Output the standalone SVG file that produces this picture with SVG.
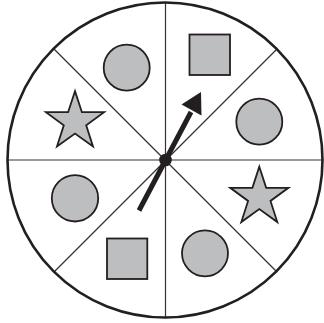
<svg xmlns="http://www.w3.org/2000/svg" width="324" height="323" viewBox="0 0 324 323">
<defs>
<style>
.div{stroke:#333;stroke-width:1.2;fill:none}
.shape{fill:#bcbec0;stroke:#231f20;stroke-width:1.8}
</style>
<polygon id="star" points="0,-30.6 6.9,-9.5 29.1,-9.5 11.2,3.6 18,24.8 0,11.8 -18,24.8 -11.2,3.6 -29.1,-9.5 -6.9,-9.5"/>
</defs>
<rect width="324" height="323" fill="#fff"/>
<g id="connectors">
<line class="div" x1="165.5" y1="2" x2="165.5" y2="318"/>
<line class="div" x1="7" y1="160" x2="323" y2="160"/>
<line class="div" x1="54" y1="49" x2="277" y2="272"/>
<line class="div" x1="277" y1="49" x2="54" y2="272"/>
</g>
<g id="wheel"><circle cx="165" cy="160" r="157.5" fill="none" stroke="#231f20" stroke-width="2.6"/></g>
<g id="circle1"><circle class="shape" cx="126.7" cy="67.7" r="23"/></g>
<g id="square1"><rect class="shape" x="189.5" y="34.5" width="40.5" height="40.5"/></g>
<g id="circle2"><circle class="shape" cx="259.3" cy="121.7" r="23"/></g>
<g id="star1"><use href="#star" class="shape" x="259.3" y="197.3"/></g>
<g id="circle3"><circle class="shape" cx="205" cy="253.3" r="23"/></g>
<g id="square2"><rect class="shape" x="107" y="238.5" width="40.3" height="40.5"/></g>
<g id="circle4"><circle class="shape" cx="75" cy="198.3" r="23.2"/></g>
<g id="star2"><use href="#star" class="shape" x="75" y="121.7"/></g>
<g id="pointer">
<line x1="139" y1="210.5" x2="191" y2="112" stroke="#231f20" stroke-width="5"/>
<polygon points="201,92 181.5,104.5 201.5,115.5" fill="#231f20"/>
<circle cx="165.5" cy="160" r="6.3" fill="#231f20"/>
</g>
</svg>
